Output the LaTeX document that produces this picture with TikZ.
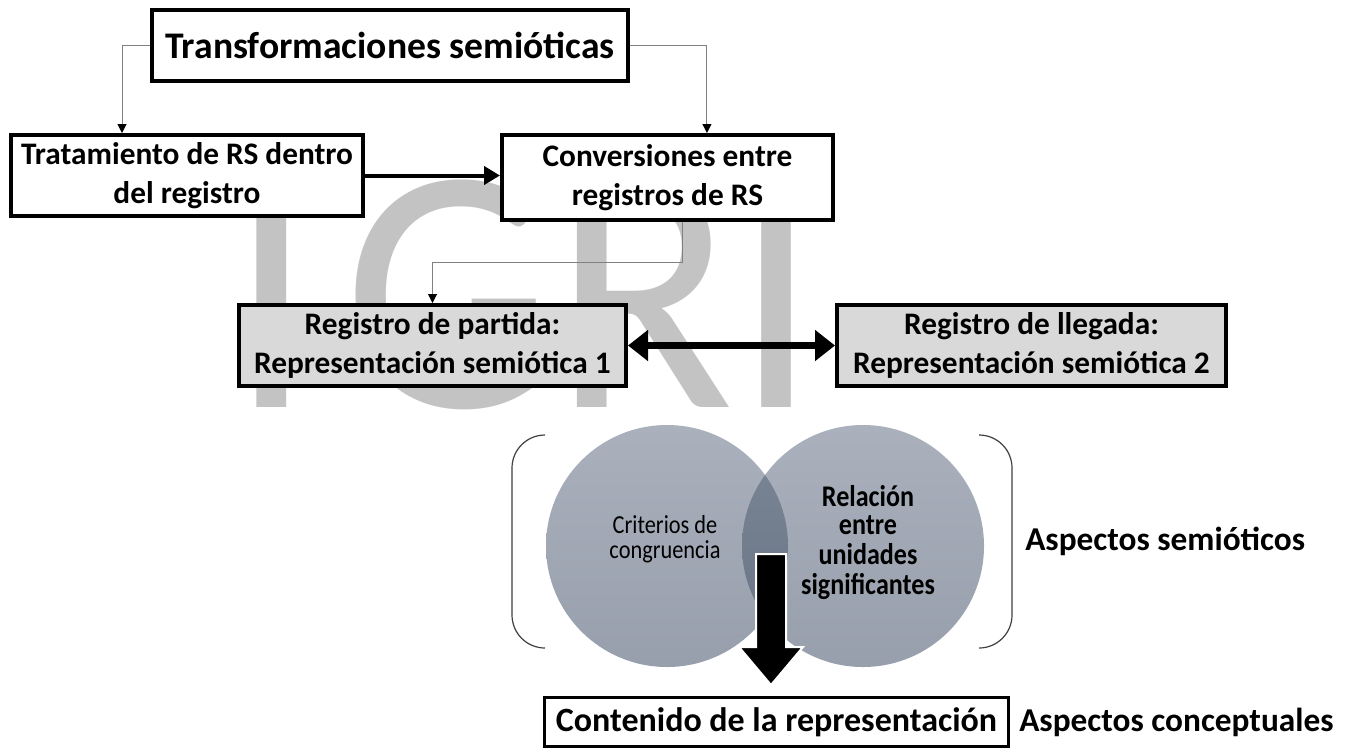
\documentclass[tikz,border=0pt]{standalone}
\usepackage{fontspec}
\setmainfont{Carlito}
\usetikzlibrary{arrows.meta}
\definecolor{wm}{HTML}{C3C3C3}
\definecolor{boxgray}{HTML}{D9D9D9}
\definecolor{conngray}{HTML}{808080}
\definecolor{ctop}{HTML}{AAB1BD}
\definecolor{cbot}{HTML}{989FAC}
\definecolor{ltop}{HTML}{7B8696}
\definecolor{lbot}{HTML}{687385}
\newcommand\narrowtext[2]{\scalebox{#1}[1]{\begin{tabular}{@{}c@{}}#2\end{tabular}}}
\begin{document}
\begin{tikzpicture}[x=0.75pt,y=-0.75pt,
  box/.style={draw=black, line width=3pt, fill=white, align=center, inner sep=0pt,
    font=\bfseries\fontsize{23.5}{29}\selectfont},
  graybox/.style={box, fill=boxgray},
  conn/.style={draw=conngray, line width=0.75pt, -{Triangle[length=6.75pt,width=6.75pt,fill=black,color=black]}},
  bigarrow/.style={line width=3pt, -{Triangle[length=12pt,width=13.5pt]}},
  dblarrow/.style={line width=5.25pt, {Triangle[length=15pt,width=22.5pt]}-{Triangle[length=15pt,width=22.5pt]}},
  bracket/.style={draw=black!75, line width=0.9pt},
  label/.style={font=\bfseries\fontsize{25}{30}\selectfont, anchor=west, inner sep=0pt}]
\useasboundingbox (0,0) rectangle (1358,751);
\fill[white] (0,0) rectangle (1358,751);
% watermark
\node[anchor=base west, inner sep=0pt, text=wm, font=\fontsize{263}{263}\selectfont] (wmark) at (190,407) {\scalebox{0.95}[1]{TGRI}};
% top boxes
\node[box, minimum width=357pt, minimum height=53.25pt, font=\bfseries\fontsize{28.2}{32}\selectfont] (title) at (390,45.5) {Transformaciones semióticas};
\node[box, minimum width=264pt, minimum height=60.75pt] (trat) at (187,175.5) {Tratamiento de RS dentro\\del registro};
\node[box, minimum width=248.25pt, minimum height=63.75pt] (conv) at (667.5,177.5) {Conversiones entre\\registros de RS};
\node[graybox, minimum width=290.25pt, minimum height=60.75pt] (part) at (432.5,345.5) {Registro de partida:\\Representación semiótica 1};
\node[graybox, minimum width=291.75pt, minimum height=60.75pt] (lleg) at (1031.5,345.5) {Registro de llegada:\\Representación semiótica 2};
% connectors
\draw[conn] (title.west) -| ([xshift=-48.75pt]trat.north);
\draw[conn] (title.east) -| ([xshift=29.6pt]conv.north);
\draw[bigarrow] (trat.east) -- (trat.east -| conv.west);
\draw[conn] ([xshift=11.6pt]conv.south) -- ++(0,40) -| (part.north);
\draw[dblarrow] (part.east) -- (lleg.west);
% circles
\shade[top color=ctop, bottom color=cbot] (667,546) circle[radius=90.75pt];
\shade[top color=ctop, bottom color=cbot] (863,546) circle[radius=90.75pt];
\begin{scope}
  \clip (667,546) circle[radius=90.75pt];
  \shade[top color=ltop, bottom color=lbot] (863,546) circle[radius=90.75pt];
\end{scope}
\node[inner sep=0pt, font=\fontsize{19.5}{18.5}\selectfont] (crit) at (665,541) {\narrowtext{0.86}{Criterios de\\congruencia}};
\node[inner sep=0pt, font=\bfseries\fontsize{22.5}{21.5}\selectfont] (rel) at (868,544) {\narrowtext{0.87}{Relación\\entre\\unidades\\significantes}};
% brackets
\draw[bracket] (545,435) arc[start angle=90,end angle=180,radius=24.75pt] -- (512,615) arc[start angle=180,end angle=270,radius=24.75pt];
\draw[bracket] (979,435) arc[start angle=90,end angle=0,radius=24.75pt] -- (1012,615) arc[start angle=0,end angle=-90,radius=24.75pt];
% down arrow
\fill[black, draw=white, line width=1.5pt] (756,554) -- (786,554) -- (786,647) -- (803,647) -- (771,685) -- (739,647) -- (756,647) -- cycle;
% bottom
\node[box, line width=2.25pt, minimum width=348pt, minimum height=36.75pt, font=\bfseries\fontsize{25.5}{30}\selectfont] (cont) at (776.5,722) {Contenido de la representación};
\node[label] (asem) at (1025,541) {Aspectos semióticos};
\node[label] (acon) at (1019,722) {Aspectos conceptuales};
\end{tikzpicture}
\end{document}
